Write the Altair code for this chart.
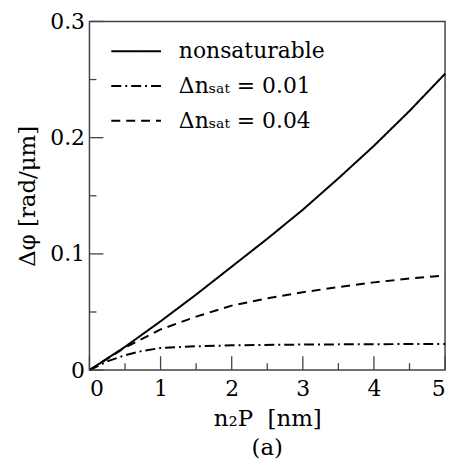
import altair as alt
import pandas as pd

# ---- data ----
x_non = [0, 0.5, 1, 1.5, 2, 2.5, 3, 3.5, 4, 4.5, 5]
y_non = [0, 0.020, 0.042, 0.065, 0.089, 0.113, 0.138, 0.165, 0.193, 0.223, 0.255]

x_s01 = [0, 0.25, 0.5, 0.75, 1, 1.5, 2, 3, 4, 5]
y_s01 = [0, 0.0075, 0.0128, 0.0166, 0.0190, 0.0205, 0.0213, 0.0220, 0.0223, 0.0225]

x_s04 = [0, 0.5, 1, 1.5, 2, 2.5, 3, 3.5, 4, 4.5, 5]
y_s04 = [0, 0.0195, 0.035, 0.046, 0.0555, 0.0618, 0.0670, 0.0715, 0.0755, 0.0788, 0.0815]

series_names = ["nonsaturable", "\u0394n\u209b\u2090\u209c = 0.01", "\u0394n\u209b\u2090\u209c = 0.04"]
dash_patterns = [[1, 0], [10, 4, 2, 4], [9, 6]]

x_major = [0, 1, 2, 3, 4, 5]
x_minor = [0.5, 1.5, 2.5, 3.5, 4.5]
y_major = [0, 0.1, 0.2, 0.3]
y_minor = [0.05, 0.15, 0.25]

W, H = 358, 351
FONT = "DejaVu Serif"
LBL = 22
TTL = 23

rows = []
for name, xs, ys in [(series_names[0], x_non, y_non),
                     (series_names[1], x_s01, y_s01),
                     (series_names[2], x_s04, y_s04)]:
    for a, b in zip(xs, ys):
        rows.append({"x": a, "y": b, "series": name})
df = pd.DataFrame(rows)

xscale = alt.Scale(domain=[0, 5], nice=False, zero=False)
yscale = alt.Scale(domain=[0, 0.3], nice=False, zero=False)
dash_scale = alt.Scale(domain=series_names, range=dash_patterns)

xaxis = alt.Axis(title="n\u2082P\u00a0\u00a0[nm]", values=x_major, format="d",
                 ticks=False, domain=False, grid=False,
                 labelFont=FONT, labelFontSize=LBL, labelColor="black",
                 labelPadding=9, titleFont=FONT, titleFontSize=TTL,
                 titleFontWeight="normal", titleColor="black", titlePadding=8)
yaxis = alt.Axis(title="\u0394\u03c6 [rad/\u03bcm]", values=y_major,
                 labelExpr="datum.value == 0 ? '0' : format(datum.value, '.1f')",
                 ticks=False, domain=False, grid=False,
                 labelFont=FONT, labelFontSize=LBL, labelColor="black",
                 labelPadding=5, titleFont=FONT, titleFontSize=TTL,
                 titleFontWeight="normal", titleColor="black", titlePadding=10)

lines = alt.Chart(df).mark_line(color="black", strokeWidth=2).encode(
    x=alt.X("x:Q", scale=xscale, axis=xaxis),
    y=alt.Y("y:Q", scale=yscale, axis=yaxis),
    strokeDash=alt.StrokeDash("series:N", scale=dash_scale, legend=None),
    order=alt.Order("x:Q"),
)

def tick_layer(vals, channel, length):
    d = pd.DataFrame({"x": vals, "y": vals})
    if channel == "x":
        return alt.Chart(d).mark_rule(color="#444", strokeWidth=1.3).encode(
            x=alt.X("x:Q", scale=xscale, axis=xaxis),
            y=alt.value(H), y2=alt.value(H - length))
    return alt.Chart(d).mark_rule(color="#444", strokeWidth=1.3).encode(
        y=alt.Y("y:Q", scale=yscale, axis=yaxis),
        x=alt.value(0), x2=alt.value(length))

plot = alt.layer(
    lines,
    tick_layer(x_major, "x", 14), tick_layer(x_minor, "x", 7),
    tick_layer(y_major, "y", 14), tick_layer(y_minor, "y", 7),
)

# legend drawn inside the plot, rows placed by a point scale
leg_df = pd.DataFrame({"series": series_names})
leg_y = alt.Y("series:N", scale=alt.Scale(type="point", domain=series_names,
                                          range=[30, 100], padding=0),
              axis=None)
leg_lines = alt.Chart(leg_df).mark_rule(color="black", strokeWidth=2).encode(
    y=leg_y, x=alt.value(22), x2=alt.value(72),
    strokeDash=alt.StrokeDash("series:N", scale=dash_scale, legend=None),
)
leg_text = alt.Chart(leg_df).mark_text(align="left", baseline="middle", font=FONT,
                                       fontSize=LBL, color="black").encode(
    y=leg_y, x=alt.value(90), text="series:N",
)
legend = alt.layer(leg_lines, leg_text)

chart = alt.layer(plot, legend).resolve_scale(y="independent").properties(
    width=W, height=H,
    title=alt.TitleParams("(a)", orient="bottom", font=FONT, fontSize=TTL,
                          fontWeight="normal", color="black", offset=6),
    autosize=alt.AutoSizeParams(type="none"),
    padding={"left": 82, "top": 12, "right": 10, "bottom": 96},
).configure_view(stroke="#444", strokeWidth=1.5)

chart.save("out.html", embed_options={"renderer": "svg", "actions": False})
